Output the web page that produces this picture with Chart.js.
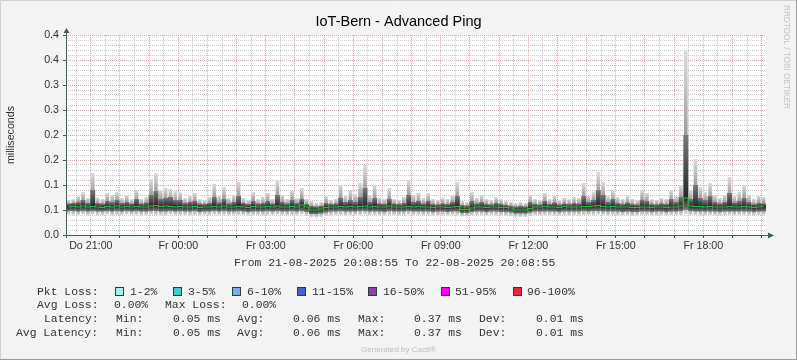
<!DOCTYPE html>
<html>
<head>
<meta charset="utf-8">
<title>IoT-Bern - Advanced Ping</title>
<script src="https://cdn.jsdelivr.net/npm/chart.js@4.4.1/dist/chart.umd.min.js"></script>
<style>
  html, body { margin: 0; padding: 0; background: #f3f3f3; }
  #chart { display: block; }
</style>
</head>
<body>
<canvas id="chart" width="797" height="360"></canvas>
<script>
// one sample every 10 minutes, from 21-08-2025 20:08:55 (values in ms)
const pingMax = [
  0.070, 0.072, 0.078, 0.086, 0.074, 0.124, 0.075, 0.072, 0.084, 0.080, 0.086, 0.074,
  0.080, 0.072, 0.090, 0.072, 0.076, 0.112, 0.124, 0.090, 0.094, 0.092, 0.088, 0.086,
  0.074, 0.078, 0.084, 0.072, 0.070, 0.076, 0.102, 0.078, 0.096, 0.074, 0.080, 0.106,
  0.074, 0.070, 0.086, 0.072, 0.076, 0.084, 0.072, 0.110, 0.080, 0.072, 0.090, 0.074,
  0.094, 0.072, 0.068, 0.064, 0.066, 0.078, 0.070, 0.072, 0.100, 0.078, 0.090, 0.082,
  0.104, 0.140, 0.080, 0.100, 0.074, 0.072, 0.094, 0.072, 0.070, 0.076, 0.110, 0.080,
  0.084, 0.074, 0.084, 0.072, 0.070, 0.074, 0.072, 0.080, 0.106, 0.068, 0.066, 0.086,
  0.074, 0.080, 0.072, 0.070, 0.076, 0.072, 0.068, 0.066, 0.064, 0.066, 0.064, 0.080,
  0.072, 0.070, 0.084, 0.072, 0.078, 0.070, 0.074, 0.072, 0.076, 0.074, 0.104, 0.078,
  0.086, 0.126, 0.106, 0.078, 0.090, 0.076, 0.072, 0.078, 0.072, 0.070, 0.090, 0.084,
  0.072, 0.070, 0.074, 0.072, 0.090, 0.078, 0.100, 0.370, 0.090, 0.152, 0.096, 0.086,
  0.104, 0.080, 0.074, 0.080, 0.116, 0.078, 0.086, 0.100, 0.080, 0.072, 0.078, 0.076
];
const pingHigh = [
  0.063, 0.064, 0.066, 0.070, 0.064, 0.090, 0.064, 0.063, 0.068, 0.066, 0.070, 0.064,
  0.066, 0.063, 0.072, 0.063, 0.065, 0.080, 0.088, 0.072, 0.074, 0.076, 0.070, 0.070,
  0.064, 0.066, 0.068, 0.063, 0.062, 0.064, 0.076, 0.065, 0.072, 0.063, 0.066, 0.078,
  0.064, 0.062, 0.068, 0.063, 0.064, 0.068, 0.063, 0.080, 0.066, 0.063, 0.070, 0.064,
  0.072, 0.062, 0.058, 0.057, 0.058, 0.064, 0.062, 0.063, 0.074, 0.066, 0.070, 0.066,
  0.076, 0.094, 0.066, 0.074, 0.063, 0.062, 0.072, 0.063, 0.062, 0.064, 0.080, 0.066,
  0.068, 0.063, 0.068, 0.062, 0.061, 0.063, 0.062, 0.066, 0.078, 0.060, 0.059, 0.068,
  0.063, 0.066, 0.062, 0.061, 0.064, 0.062, 0.060, 0.058, 0.057, 0.058, 0.057, 0.066,
  0.062, 0.061, 0.068, 0.062, 0.065, 0.061, 0.063, 0.062, 0.064, 0.063, 0.078, 0.066,
  0.070, 0.090, 0.080, 0.066, 0.072, 0.064, 0.062, 0.065, 0.062, 0.061, 0.070, 0.068,
  0.062, 0.061, 0.063, 0.062, 0.072, 0.066, 0.076, 0.200, 0.072, 0.100, 0.074, 0.070,
  0.078, 0.066, 0.063, 0.066, 0.084, 0.065, 0.068, 0.074, 0.066, 0.062, 0.064, 0.063
];
const pingMedian = [
  0.056, 0.057, 0.056, 0.058, 0.056, 0.057, 0.056, 0.055, 0.057, 0.056, 0.058, 0.056,
  0.057, 0.056, 0.057, 0.056, 0.056, 0.058, 0.059, 0.057, 0.058, 0.057, 0.056, 0.057,
  0.056, 0.056, 0.057, 0.055, 0.056, 0.056, 0.057, 0.056, 0.058, 0.056, 0.056, 0.057,
  0.056, 0.055, 0.057, 0.056, 0.056, 0.057, 0.056, 0.058, 0.056, 0.056, 0.057, 0.056,
  0.060, 0.056, 0.050, 0.050, 0.052, 0.055, 0.056, 0.056, 0.057, 0.056, 0.057, 0.056,
  0.057, 0.058, 0.056, 0.057, 0.056, 0.056, 0.058, 0.056, 0.056, 0.056, 0.057, 0.056,
  0.057, 0.056, 0.056, 0.055, 0.056, 0.056, 0.055, 0.056, 0.057, 0.051, 0.051, 0.054,
  0.056, 0.056, 0.055, 0.056, 0.056, 0.055, 0.055, 0.054, 0.050, 0.050, 0.050, 0.053,
  0.056, 0.056, 0.057, 0.056, 0.056, 0.055, 0.057, 0.056, 0.056, 0.056, 0.057, 0.057,
  0.058, 0.059, 0.057, 0.056, 0.057, 0.056, 0.056, 0.056, 0.055, 0.055, 0.056, 0.056,
  0.055, 0.056, 0.056, 0.055, 0.056, 0.056, 0.058, 0.074, 0.058, 0.057, 0.057, 0.056,
  0.057, 0.056, 0.056, 0.056, 0.057, 0.056, 0.056, 0.057, 0.056, 0.055, 0.056, 0.057
];
const pingLow = [
  0.048, 0.048, 0.047, 0.048, 0.047, 0.048, 0.047, 0.047, 0.048, 0.047, 0.048, 0.047,
  0.048, 0.047, 0.048, 0.047, 0.047, 0.048, 0.048, 0.047, 0.047, 0.048, 0.047, 0.048,
  0.047, 0.047, 0.048, 0.046, 0.047, 0.047, 0.048, 0.047, 0.048, 0.047, 0.047, 0.048,
  0.047, 0.046, 0.047, 0.047, 0.047, 0.048, 0.047, 0.048, 0.047, 0.047, 0.048, 0.047,
  0.048, 0.046, 0.042, 0.042, 0.043, 0.045, 0.047, 0.047, 0.048, 0.047, 0.047, 0.047,
  0.048, 0.048, 0.047, 0.047, 0.047, 0.046, 0.048, 0.047, 0.047, 0.047, 0.048, 0.047,
  0.047, 0.047, 0.047, 0.046, 0.047, 0.047, 0.046, 0.047, 0.047, 0.044, 0.044, 0.046,
  0.047, 0.047, 0.046, 0.047, 0.047, 0.046, 0.046, 0.045, 0.043, 0.043, 0.043, 0.045,
  0.047, 0.047, 0.047, 0.047, 0.047, 0.046, 0.047, 0.047, 0.047, 0.047, 0.048, 0.047,
  0.048, 0.048, 0.047, 0.047, 0.047, 0.047, 0.046, 0.047, 0.046, 0.046, 0.047, 0.047,
  0.046, 0.047, 0.047, 0.046, 0.047, 0.047, 0.048, 0.050, 0.048, 0.047, 0.047, 0.047,
  0.047, 0.047, 0.046, 0.047, 0.047, 0.047, 0.047, 0.047, 0.047, 0.046, 0.047, 0.047
];
const pingMin = [
  0.041, 0.040, 0.040, 0.041, 0.039, 0.041, 0.040, 0.040, 0.041, 0.039, 0.040, 0.040,
  0.041, 0.040, 0.040, 0.039, 0.040, 0.041, 0.040, 0.040, 0.039, 0.041, 0.040, 0.040,
  0.040, 0.039, 0.040, 0.039, 0.040, 0.040, 0.041, 0.040, 0.040, 0.039, 0.040, 0.040,
  0.040, 0.039, 0.040, 0.040, 0.039, 0.040, 0.040, 0.041, 0.040, 0.039, 0.040, 0.040,
  0.041, 0.038, 0.036, 0.035, 0.036, 0.038, 0.039, 0.040, 0.040, 0.039, 0.040, 0.040,
  0.040, 0.041, 0.040, 0.040, 0.039, 0.039, 0.040, 0.040, 0.039, 0.040, 0.041, 0.040,
  0.040, 0.039, 0.040, 0.039, 0.039, 0.040, 0.039, 0.040, 0.040, 0.037, 0.037, 0.039,
  0.040, 0.040, 0.039, 0.040, 0.039, 0.039, 0.038, 0.038, 0.036, 0.036, 0.036, 0.038,
  0.040, 0.039, 0.040, 0.040, 0.039, 0.039, 0.040, 0.039, 0.040, 0.039, 0.040, 0.040,
  0.040, 0.041, 0.040, 0.039, 0.040, 0.039, 0.039, 0.039, 0.038, 0.039, 0.040, 0.040,
  0.039, 0.039, 0.040, 0.039, 0.040, 0.040, 0.040, 0.042, 0.040, 0.040, 0.039, 0.040,
  0.040, 0.039, 0.039, 0.040, 0.040, 0.039, 0.040, 0.040, 0.039, 0.039, 0.040, 0.040
];

const xTickLabels = ['Do 21:00', 'Fr 00:00', 'Fr 03:00', 'Fr 06:00', 'Fr 09:00', 'Fr 12:00', 'Fr 15:00', 'Fr 18:00'];
const yTickLabels = ['0.0', '0.1', '0.1', '0.2', '0.2', '0.3', '0.3', '0.4', '0.4'];
const lossBuckets = ['1-2%', '3-5%', '6-10%', '11-15%', '16-50%', '51-95%', '96-100%'];
const lossStats = ['0.00%', '0.00%'];
const latencyStats = ['0.05 ms', '0.06 ms', '0.37 ms', '0.01 ms'];
const avgLatencyStats = ['0.05 ms', '0.06 ms', '0.37 ms', '0.01 ms'];

const bucketColors = ['#a8f0ee', '#3ed0c6', '#74aeee', '#3f5fe0', '#8e44a0', '#ff00ff', '#f02434'];

const START_HOUR = 20 + 8 / 60 + 55 / 3600;
const SANS = "'Liberation Sans', Arial, sans-serif";
const MONO = "'Liberation Mono', 'Courier New', monospace";
const AXIS = '#3e5d58';
const RED_GRID = 'rgba(236,120,120,0.7)';
const GRAY_GRID = 'rgba(185,185,185,0.75)';

const sampleHours = pingMax.map((_, i) => i / 6 + 1 / 12);
const smoke = sampleHours.map((x, i) => ({ x: x, y: [pingMin[i], pingMax[i]] }));
const core = sampleHours.map((x, i) => ({ x: x, y: [pingLow[i], pingHigh[i]] }));
const median = sampleHours.map((x, i) => ({ x: x, y: pingMedian[i] }));

function isFullHour(v) {
    const c = START_HOUR + v;
    return Math.abs(c - Math.round(c)) < 1e-6;
}

function isMajorY(v) {
    return Math.abs(v * 20 - Math.round(v * 20)) < 1e-6;
}

// vertical gradient per bar: dark at the median, fading towards both ends
function smokeFill(edge, mid) {
    return (c) => {
        const chart = c.chart;
        const raw = c.raw;
        const y = chart.scales && chart.scales.y;
        if (!raw || !y || !chart.chartArea) return mid;
        const top = y.getPixelForValue(raw.y[1]);
        const bottom = y.getPixelForValue(raw.y[0]);
        const m = y.getPixelForValue(pingMedian[c.dataIndex]);
        if (bottom - top < 1) return mid;
        const g = chart.ctx.createLinearGradient(0, top, 0, bottom);
        const stop = Math.min(0.98, Math.max(0.02, (m - top) / (bottom - top)));
        g.addColorStop(0, edge);
        g.addColorStop(stop, mid);
        g.addColorStop(1, edge);
        return g;
    };
}

const decor = {
    id: 'decor',
    beforeDraw(chart) {
        const { ctx, chartArea: a } = chart;
        ctx.save();
        ctx.fillStyle = '#f3f3f3';
        ctx.fillRect(0, 0, chart.width, chart.height);
        ctx.fillStyle = '#ffffff';
        ctx.fillRect(a.left, a.top, a.right - a.left, a.bottom - a.top);
        ctx.restore();
    },
    afterDatasetsDraw(chart) {
        const { ctx, chartArea: a } = chart;
        const x0 = a.left + 0.5;
        const y0 = a.bottom + 0.5;
        ctx.save();
        ctx.strokeStyle = AXIS;
        ctx.fillStyle = AXIS;
        ctx.lineWidth = 1;
        ctx.beginPath();
        ctx.moveTo(x0, a.bottom + 3);
        ctx.lineTo(x0, a.top - 3);
        ctx.moveTo(a.left - 3, y0);
        ctx.lineTo(a.right + 3, y0);
        ctx.stroke();
        ctx.beginPath();
        ctx.moveTo(x0 - 3, a.top - 2);
        ctx.lineTo(x0, a.top - 7);
        ctx.lineTo(x0 + 3, a.top - 2);
        ctx.closePath();
        ctx.fill();
        ctx.beginPath();
        ctx.moveTo(a.right + 2, y0 - 3);
        ctx.lineTo(a.right + 8, y0);
        ctx.lineTo(a.right + 2, y0 + 3);
        ctx.closePath();
        ctx.fill();
        ctx.restore();
    },
    afterDraw(chart) {
        const ctx = chart.ctx;
        const w = chart.width, h = chart.height;
        ctx.save();

        ctx.fillStyle = '#000';
        ctx.font = '14.5px ' + SANS;
        ctx.textAlign = 'center';
        ctx.textBaseline = 'middle';
        ctx.fillText('IoT-Bern - Advanced Ping', w / 2, 22);

        ctx.fillStyle = '#333';
        ctx.font = '10.7px ' + SANS;
        ctx.save();
        ctx.translate(11, 135);
        ctx.rotate(-Math.PI / 2);
        ctx.fillText('milliseconds', 0, 0);
        ctx.restore();

        ctx.fillStyle = '#c4c4c4';
        ctx.font = '8.2px ' + SANS;
        ctx.textAlign = 'left';
        ctx.save();
        ctx.translate(786, 5);
        ctx.rotate(Math.PI / 2);
        ctx.fillText('RRDTOOL / TOBI OETIKER', 0, 0);
        ctx.restore();

        ctx.fillStyle = '#bdbdbd';
        ctx.font = '8px ' + SANS;
        ctx.textAlign = 'center';
        ctx.fillText('Generated by Cacti\u00ae', w / 2, 350);

        // legend, monospaced like rrdtool
        ctx.fillStyle = '#333';
        ctx.font = '11.4px ' + MONO;
        ctx.textAlign = 'left';
        ctx.fillText('From 21-08-2025 20:08:55 To 22-08-2025 20:08:55', 234, 263);

        const boxX = [115, 173, 232, 297, 368, 441, 513];
        const textX = [130, 188, 247, 312, 383, 455, 527];
        ctx.fillText('Pkt Loss:', 37, 292);
        lossBuckets.forEach((b, i) => {
            ctx.fillStyle = bucketColors[i];
            ctx.fillRect(boxX[i], 287.5, 8, 8);
            ctx.strokeStyle = '#234040';
            ctx.strokeRect(boxX[i] + 0.5, 287.5, 8, 8);
            ctx.fillStyle = '#333';
            ctx.fillText(b, textX[i], 292);
        });

        ctx.fillText('Avg Loss:', 37, 305);
        ctx.fillText(lossStats[0], 114, 305);
        ctx.fillText('Max Loss:', 165, 305);
        ctx.fillText(lossStats[1], 242, 305);

        const cols = [116, 173, 237, 293, 358, 414, 479, 536];
        const names = ['Min:', 'Avg:', 'Max:', 'Dev:'];
        [['Latency:', 44, 319, latencyStats], ['Avg Latency:', 16, 333, avgLatencyStats]].forEach(([label, lx, ly, stats]) => {
            ctx.fillText(label, lx, ly);
            names.forEach((n, i) => {
                ctx.fillText(n, cols[i * 2], ly);
                ctx.fillText(stats[i], cols[i * 2 + 1], ly);
            });
        });

        ctx.lineWidth = 1;
        ctx.strokeStyle = '#d2d2d2';
        ctx.beginPath();
        ctx.moveTo(0.5, h);
        ctx.lineTo(0.5, 0.5);
        ctx.lineTo(w, 0.5);
        ctx.stroke();
        ctx.strokeStyle = '#9a9a9a';
        ctx.beginPath();
        ctx.moveTo(w - 0.5, 0);
        ctx.lineTo(w - 0.5, h - 0.5);
        ctx.lineTo(0, h - 0.5);
        ctx.stroke();
        ctx.restore();
    }
};

const ctx = document.getElementById('chart').getContext('2d');
const chart = new Chart(ctx, {
    type: 'bar',
    data: {
        datasets: [
            {
                type: 'line',
                label: 'Median',
                data: median,
                borderColor: '#1dc436',
                borderWidth: 1.2,
                pointRadius: 0,
                stepped: 'middle',
                order: 0
            },
            {
                label: 'core',
                data: core,
                backgroundColor: smokeFill('#7a7a7a', '#262626'),
                grouped: false,
                barPercentage: 1.02,
                categoryPercentage: 1,
                order: 1
            },
            {
                label: 'smoke',
                data: smoke,
                backgroundColor: smokeFill('#dcdcdc', '#6e6e6e'),
                grouped: false,
                barPercentage: 0.75,
                categoryPercentage: 1,
                order: 2
            }
        ]
    },
    options: {
        responsive: false,
        animation: false,
        layout: { padding: { left: 0, top: 35, right: 31, bottom: 105 } },
        plugins: { legend: { display: false }, tooltip: { enabled: false } },
        scales: {
            x: {
                type: 'linear',
                min: 0,
                max: 24,
                offset: false,
                afterBuildTicks: (scale) => {
                    const ticks = [];
                    const first = Math.ceil(START_HOUR * 2) / 2 - START_HOUR;
                    for (let t = first; t < 24; t += 0.5) ticks.push({ value: t });
                    scale.ticks = ticks;
                },
                afterFit: (scale) => { scale.height = 20; },
                ticks: {
                    autoSkip: false,
                    maxRotation: 0,
                    padding: 2,
                    color: '#333',
                    font: { family: SANS, size: 10.7 },
                    callback: (v) => {
                        const c = START_HOUR + v;
                        if (!isFullHour(v) || Math.round(c) % 3 !== 0) return '';
                        return xTickLabels[Math.round((v - (21 - START_HOUR)) / 3)];
                    }
                },
                grid: {
                    offset: false,
                    color: (c) => isFullHour(c.tick.value) ? RED_GRID : GRAY_GRID,
                    tickLength: 3,
                    tickColor: (c) => isFullHour(c.tick.value) ? AXIS : 'rgba(0,0,0,0)'
                },
                border: { display: false, dash: [1, 1] }
            },
            y: {
                min: 0,
                max: 0.4,
                afterBuildTicks: (scale) => {
                    scale.ticks = Array.from({ length: 41 }, (_, i) => ({ value: i / 100 }));
                },
                afterFit: (scale) => { scale.width = 66; },
                ticks: {
                    autoSkip: false,
                    padding: 4,
                    color: '#333',
                    font: { family: SANS, size: 10.7 },
                    callback: (v) => isMajorY(v) ? yTickLabels[Math.round(v * 20)] : ''
                },
                grid: {
                    color: (c) => isMajorY(c.tick.value) ? RED_GRID : GRAY_GRID,
                    tickLength: 3,
                    tickColor: (c) => isMajorY(c.tick.value) ? AXIS : 'rgba(0,0,0,0)'
                },
                border: { display: false, dash: [1, 1] }
            }
        }
    },
    plugins: [decor]
});
</script>
</body>
</html>
